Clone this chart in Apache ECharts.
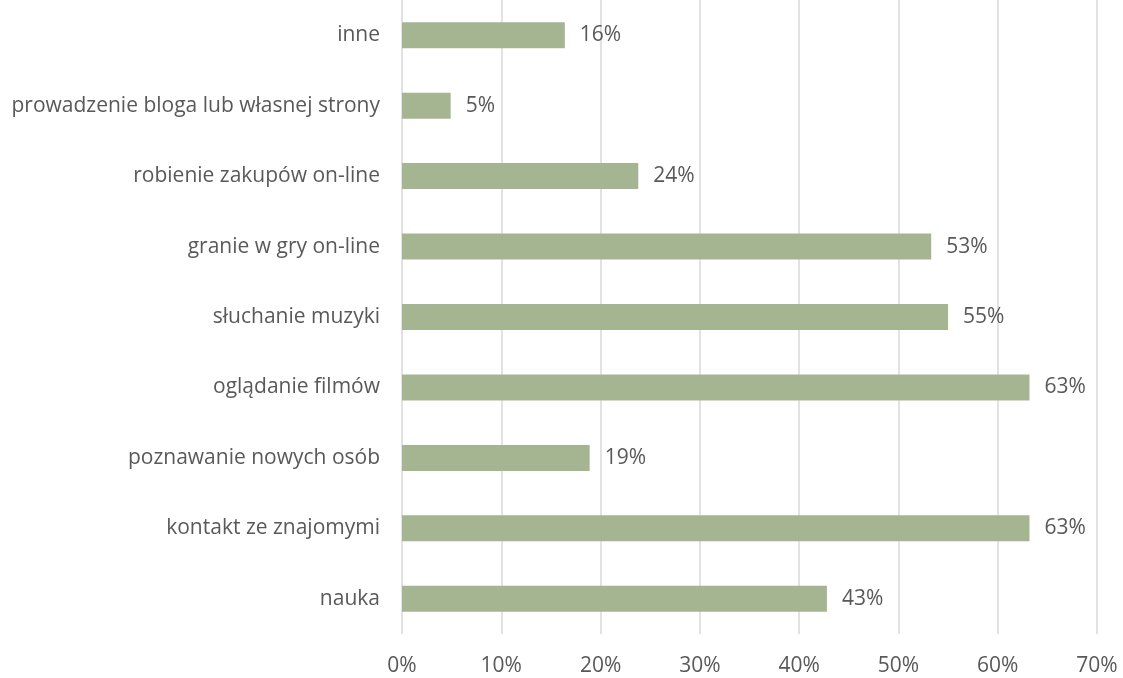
<!DOCTYPE html>
<html>
<head>
<meta charset="utf-8">
<script src="https://cdn.jsdelivr.net/npm/echarts@6/dist/echarts.min.js"></script>
<style>
  html, body { margin: 0; padding: 0; background: #fff; }
  #chart { width: 1123px; height: 678px; }
</style>
</head>
<body>
<div id="chart"></div>
<script>
// kategorie od dołu do góry (oś kategorii w ECharts rośnie w górę)
const categories = [
  'nauka',
  'kontakt ze znajomymi',
  'poznawanie nowych osób',
  'oglądanie filmów',
  'słuchanie muzyki',
  'granie w gry on-line',
  'robienie zakupów on-line',
  'prowadzenie bloga lub własnej strony',
  'inne'
]
const values = [42.8, 63.2, 18.9, 63.2, 55.0, 53.3, 23.8, 4.9, 16.4]
const valueLabels = ['43%', '63%', '19%', '63%', '55%', '53%', '24%', '5%', '16%']
const xTicks = [0, 10, 20, 30, 40, 50, 60, 70]

const chart = echarts.init(document.getElementById('chart'))
const textColor = '#595959'
const font = '"Open Sans", "Liberation Sans", sans-serif'

chart.setOption({
  animation: false,
  grid: { left: 402, right: 26, top: -5, bottom: 44, containLabel: false },
  xAxis: {
    type: 'value',
    min: xTicks[0],
    max: xTicks[xTicks.length - 1],
    interval: 10,
    axisLine: { show: false },
    axisTick: { show: false },
    splitLine: { lineStyle: { color: '#d9d9d9', width: 1.5 } },
    axisLabel: {
      color: textColor, fontSize: 21, fontFamily: font, margin: 22,
      formatter: v => v + '%'
    }
  },
  yAxis: {
    type: 'category',
    data: categories,
    axisLine: { show: false },
    axisTick: { show: false },
    axisLabel: { color: textColor, fontSize: 21, fontFamily: font, margin: 22 }
  },
  series: [{
    type: 'bar',
    data: values,
    barWidth: 26,
    itemStyle: { color: '#a5b592' },
    label: {
      show: true,
      position: 'right',
      distance: 15,
      color: textColor,
      fontSize: 21,
      fontFamily: font,
      formatter: p => valueLabels[p.dataIndex]
    }
  }]
})
</script>
</body>
</html>
